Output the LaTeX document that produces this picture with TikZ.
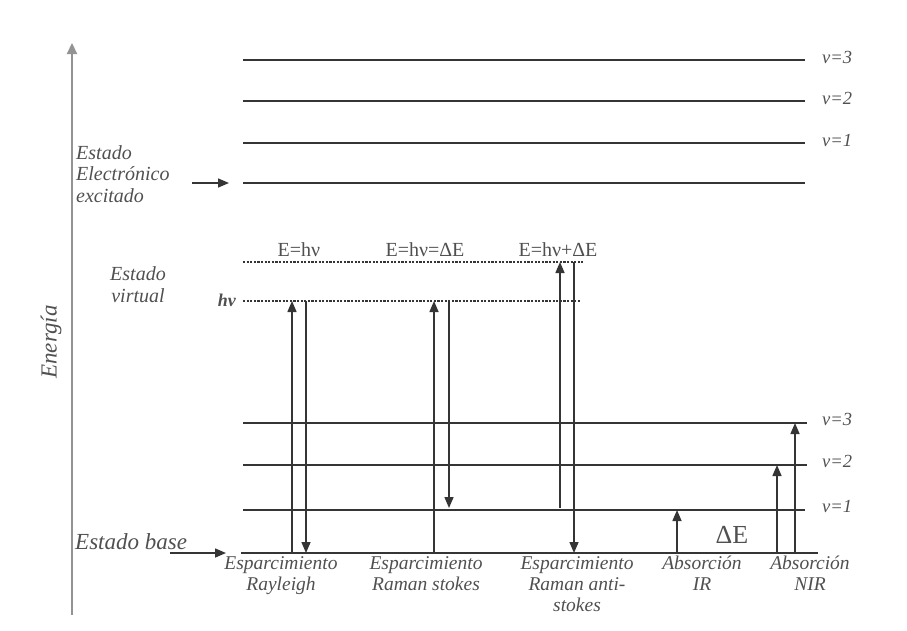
\documentclass[tikz,border=0pt]{standalone}
\usepackage{fontspec}
\setmainfont{Liberation Serif}
\usetikzlibrary{arrows.meta,positioning,calc}
\definecolor{LN}{HTML}{353535}
\definecolor{TX}{HTML}{505050}
\tikzset{
  level/.style={draw=LN, line width=1.8pt},
  virt/.style={draw=LN, line width=1.3pt, dash pattern=on 2.2pt off 1.4pt},
  trans/.style={draw=LN, line width=1.5pt, -{Triangle[length=11pt,width=9pt]}},
  axis/.style={draw=gray!85, line width=2.2pt, -{Triangle[length=11pt,width=10pt]}},
  lbl/.style={text=TX, font=\fontsize{19.5}{21}\selectfont\itshape, inner sep=0pt},
  vlab/.style={lbl, anchor=west, font=\fontsize{18.5}{21}\selectfont\itshape},
  elab/.style={text=TX, font=\fontsize{20}{22}\selectfont, inner sep=0pt}
}
\begin{document}
\begin{tikzpicture}[x=1pt,y=-1pt]
  \useasboundingbox (0,0) rectangle (907,630);
  % energy axis
  \coordinate (ax0) at (72,615);
  \coordinate (ax1) at (72,43);
  \draw[axis] (ax0) -- (ax1);
  \node[lbl, rotate=90, font=\fontsize{23}{24}\selectfont\itshape] (energia) at (51,342) {Energía};

  % upper vibrational levels
  \foreach \y/\v in {60/3,101/2,143/1}{
    \coordinate (ua\v) at (243,\y);
    \coordinate (ub\v) at (805,\y);
    \draw[level] (ua\v) -- (ub\v);
    \node[vlab] (uv\v) at (822,\y-3) {v=\v};
  }
  % excited electronic state
  \coordinate (ex0) at (243,183);
  \coordinate (ex1) at (805,183);
  \draw[level] (ex0) -- (ex1);
  \coordinate (exin) at (192,183);
  \coordinate (exout) at (229,183);
  \draw[trans] (exin) -- (exout);
  \node[lbl, align=left, anchor=north west, font=\fontsize{20}{21.5}\selectfont\itshape] (exc) at (76,145) {Estado\\Electrónico\\excitado};

  % virtual states
  \coordinate (vt0) at (243,262);
  \coordinate (vt1) at (583,262);
  \coordinate (vl0) at (243,301);
  \coordinate (vl1) at (580,301);
  \draw[virt] (vt0) -- (vt1);
  \draw[virt] (vl0) -- (vl1);
  \node[elab] (e1) at (299,250) {E=hν};
  \node[elab] (e2) at (425,250) {E=hν=ΔE};
  \node[elab] (e3) at (558,250) {E=hν+ΔE};
  \node[lbl, anchor=east, font=\fontsize{18}{20}\selectfont\itshape\bfseries] (hnu) at (236,300) {hν};
  \node[lbl, align=center, font=\fontsize{20}{22}\selectfont\itshape] (virtual) at (138,285) {Estado\\virtual};

  % lower vibrational levels
  \foreach \y/\v/\e in {423/3/807,465/2/807,510/1/805}{
    \coordinate (la\v) at (243,\y);
    \coordinate (lb\v) at (\e,\y);
    \draw[level] (la\v) -- (lb\v);
    \node[vlab] (lv\v) at (822,\y-4) {v=\v};
  }
  % ground state
  \coordinate (gs0) at (241,553);
  \coordinate (gs1) at (818,553);
  \draw[level] (gs0) -- (gs1);
  \coordinate (gsin) at (170,553);
  \coordinate (gsout) at (226,553);
  \draw[trans] (gsin) -- (gsout);
  \node[lbl, anchor=west, font=\fontsize{23}{24}\selectfont\itshape] (base) at (75,542) {Estado base};

  % transitions
  \draw[trans] (292,553) coordinate (r0) -- (292,301) coordinate (r1);
  \draw[trans] (306,301) coordinate (r2) -- (306,553) coordinate (r3);
  \draw[trans] (434,553) coordinate (s0) -- (434,301) coordinate (s1);
  \draw[trans] (449,301) coordinate (s2) -- (449,508) coordinate (s3);
  \draw[trans] (560,508) coordinate (a0) -- (560,262) coordinate (a1);
  \draw[trans] (574,262) coordinate (a3) -- (574,553) coordinate (a4);
  \draw[trans] (677,553) coordinate (ir0) -- (677,510) coordinate (ir1);
  \draw[trans] (777,553) coordinate (n0) -- (777,465) coordinate (n1);
  \draw[trans] (795,553) coordinate (n2) -- (795,423) coordinate (n3);
  \node[elab, font=\fontsize{26}{28}\selectfont] (de) at (732,535) {ΔE};

  % process labels
  \node[lbl, align=center, anchor=north] (ray) at (281,556) {Esparcimiento\\Rayleigh};
  \node[lbl, align=center, anchor=north] (stk) at (426,556) {Esparcimiento\\Raman stokes};
  \node[lbl, align=center, anchor=north] (ast) at (577,556) {Esparcimiento\\Raman anti-\\stokes};
  \node[lbl, align=center, anchor=north] (abs) at (702,556) {Absorción\\IR};
  \node[lbl, align=center, anchor=north] (nir) at (810,556) {Absorción\\NIR};
\end{tikzpicture}
\end{document}
